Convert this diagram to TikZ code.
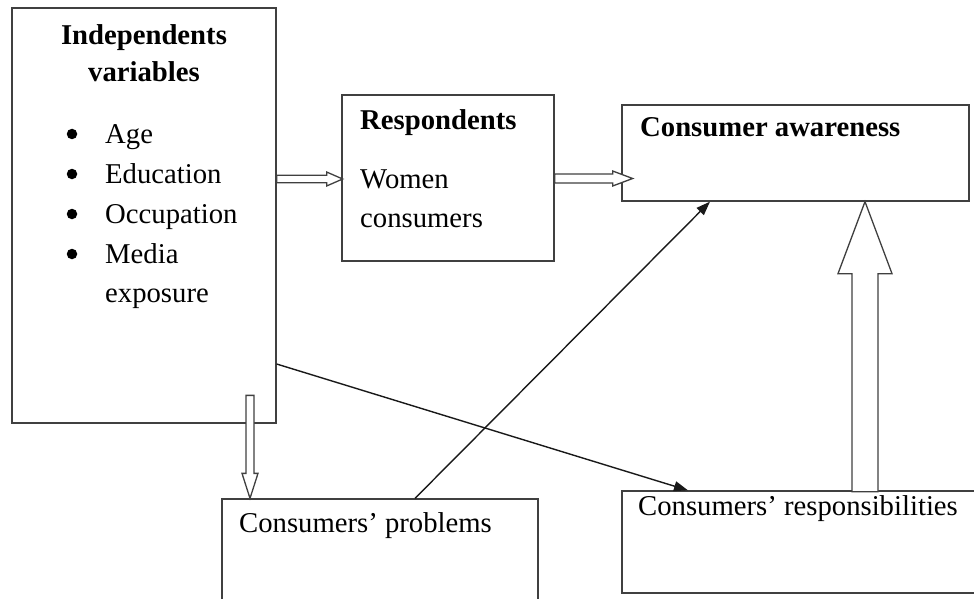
\documentclass[tikz,border=0pt]{standalone}
\usepackage{fontspec}
\setmainfont{Liberation Serif}
\usetikzlibrary{arrows.meta}

\begin{document}
\begin{tikzpicture}[x=1pt,y=-1pt,
  box/.style={draw=black!75,line width=1.3pt,rectangle,inner sep=0pt},
  txt/.style={inner sep=0pt,anchor=base west,font=\fontsize{28.7}{40}\selectfont},
  btxt/.style={txt,font=\fontsize{28.7}{40}\selectfont\bfseries},
  dot/.style={circle,fill=black,inner sep=0pt,minimum size=10.5pt},
  hollow/.style={draw=black!75,line width=1.3pt,fill=white,line join=miter},
  link/.style={draw=black!90,line width=1.4pt,-{Triangle[length=14pt,width=10pt]}}]
  \clip (0,0) rectangle (974,599);
  % boxes
  \node[box,minimum width=264pt,minimum height=415pt] (indep) at (144,215.5) {};
  \node[box,minimum width=212pt,minimum height=166pt] (resp) at (448,178) {};
  \node[box,minimum width=347pt,minimum height=96pt] (aware) at (795.5,153) {};
  \node[box,minimum width=316pt,minimum height=141pt] (prob) at (380,569.5) {};
  \node[box,minimum width=368pt,minimum height=102pt] (respons) at (806,542) {};
  % texts
  \node[btxt,anchor=base] (tIndep) at (144,45) {Independents};
  \node[btxt,anchor=base] (tVar) at (144,82) {variables};
  \foreach \y/\t [count=\i] in {143/Age,183/Education,223/Occupation,263/Media} {
    \node[dot] (dot\i) at (72,\y-9) {};
    \node[txt] (item\i) at (105,\y) {\t};
  }
  \node[txt] (item5) at (105,302) {exposure};
  \node[btxt] (tResp) at (360,130) {Respondents};
  \node[txt] (tWomen) at (360,188) {Women};
  \node[txt] (tCons) at (360,227) {consumers};
  \node[btxt] (tAware) at (640,137) {Consumer awareness};
  \node[txt] (tProb) at (239,532) {Consumers’ problems};
  \node[txt] (tRespons) at (638,515) {Consumers’ responsibilities};
  % hollow arrows
  \coordinate (a1) at (indep.east |- 0,179);
  \draw[hollow] (a1) ++(0,-3.7) -- ++(50,0) -- ++(0,-3.3) -- ++(16,7) -- ++(-16,7)
    -- ++(0,-3.3) -- ++(-50,0) -- cycle;
  \coordinate (a2) at (resp.east |- 0,178.5);
  \draw[hollow] (a2) ++(0,-4.5) -- ++(58,0) -- ++(0,-3) -- ++(20,7.5) -- ++(-20,7.5)
    -- ++(0,-3) -- ++(-58,0) -- cycle;
  \coordinate (a3) at (prob.north -| 250,0);
  \draw[hollow] (a3) -- ++(-8,-25) -- ++(4,0) -- ++(0,-78) -- ++(8,0) -- ++(0,78)
    -- ++(4,0) -- cycle;
  \coordinate (a4) at (aware.south -| 865,0);
  \draw[hollow] (a4) -- ++(27,72) -- ++(-14,0) -- ++(0,218) -- ++(-26,0) -- ++(0,-218)
    -- ++(-14,0) -- cycle;
  % thin arrows
  \draw[link] (prob.north -| 415,0) -- (aware.south -| 710,0);
  \draw[link] (indep.east |- 0,364) -- (respons.north -| 688,0);
\end{tikzpicture}
\end{document}
